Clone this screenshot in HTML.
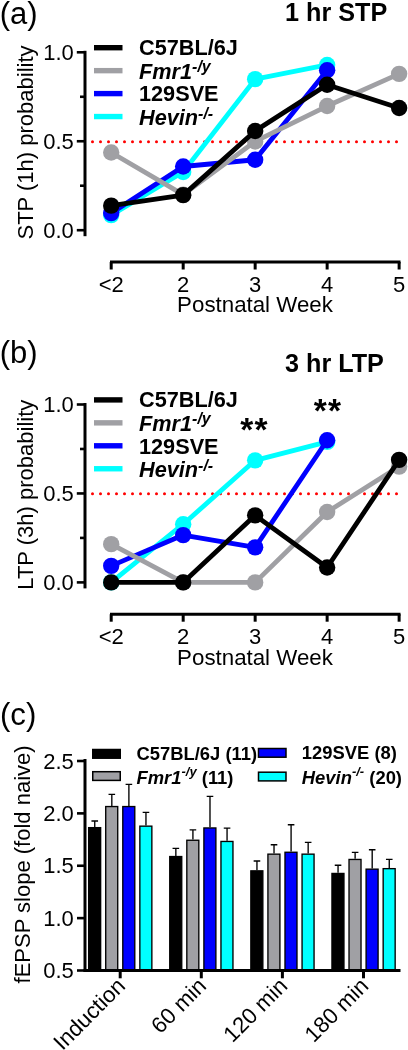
<!DOCTYPE html>
<html><head><meta charset="utf-8"><style>
html,body{margin:0;padding:0;background:#fff;width:408px;height:1050px;overflow:hidden}
svg{display:block;will-change:transform}
text{font-family:"Liberation Sans", sans-serif;fill:#000}
</style></head><body>
<svg width="408" height="1050" viewBox="0 0 408 1050">
<text x="-0.3" y="24.0" font-size="31" >(a)</text>
<text x="285" y="21.2" font-size="25.2" font-weight="bold">1 hr STP</text>
<line x1="92.5" y1="141.65" x2="398" y2="141.65" stroke="#ff0000" stroke-width="3" stroke-linecap="round" stroke-dasharray="0 8"/>
<path d="M85 50.80 V236.20" stroke="#000" stroke-width="3" fill="none"/>
<path d="M76.8 52.30 H85" stroke="#000" stroke-width="2.6"/>
<path d="M80 96.78 H85" stroke="#000" stroke-width="2.6"/>
<path d="M76.8 141.25 H85" stroke="#000" stroke-width="2.6"/>
<path d="M80 185.72 H85" stroke="#000" stroke-width="2.6"/>
<path d="M76.8 230.20 H85" stroke="#000" stroke-width="2.6"/>
<path d="M110 262 H400.5" stroke="#000" stroke-width="3" fill="none"/>
<path d="M111.20 262 V269.5" stroke="#000" stroke-width="3"/>
<path d="M183.18 262 V269.5" stroke="#000" stroke-width="3"/>
<path d="M255.16 262 V269.5" stroke="#000" stroke-width="3"/>
<path d="M327.14 262 V269.5" stroke="#000" stroke-width="3"/>
<path d="M399.12 262 V269.5" stroke="#000" stroke-width="3"/>
<text x="111.20" y="291.8" font-size="22" text-anchor="middle">&lt;2</text>
<text x="183.18" y="291.8" font-size="22" text-anchor="middle">2</text>
<text x="255.16" y="291.8" font-size="22" text-anchor="middle">3</text>
<text x="327.14" y="291.8" font-size="22" text-anchor="middle">4</text>
<text x="399.12" y="291.8" font-size="22" text-anchor="middle">5</text>
<text x="255" y="312.3" font-size="22.3" text-anchor="middle">Postnatal Week</text>
<text x="73.8" y="59.90" font-size="22" text-anchor="end">1.0</text>
<text x="73.8" y="148.85" font-size="22" text-anchor="end">0.5</text>
<text x="73.8" y="237.80" font-size="22" text-anchor="end">0.0</text>
<text transform="translate(33.1 142.5) rotate(-90)" font-size="22" text-anchor="middle">STP (1h) probability</text>
<path d="M111.20 215.08 L183.18 172.03 L255.16 79.16 L327.14 64.93" stroke="#00ffff" stroke-width="4.8" fill="none" stroke-linejoin="round"/>
<circle cx="111.20" cy="215.08" r="8.2" fill="#00ffff"/>
<circle cx="183.18" cy="172.03" r="8.2" fill="#00ffff"/>
<circle cx="255.16" cy="79.16" r="8.2" fill="#00ffff"/>
<circle cx="327.14" cy="64.93" r="8.2" fill="#00ffff"/>
<path d="M111.20 213.12 L183.18 166.51 L255.16 159.75 L327.14 70.27" stroke="#0000ff" stroke-width="4.8" fill="none" stroke-linejoin="round"/>
<circle cx="111.20" cy="213.12" r="8.2" fill="#0000ff"/>
<circle cx="183.18" cy="166.51" r="8.2" fill="#0000ff"/>
<circle cx="255.16" cy="159.75" r="8.2" fill="#0000ff"/>
<circle cx="327.14" cy="70.27" r="8.2" fill="#0000ff"/>
<path d="M111.20 152.46 L183.18 194.62 L255.16 141.43 L327.14 106.03 L399.12 73.83" stroke="#a0a0a4" stroke-width="4.8" fill="none" stroke-linejoin="round"/>
<circle cx="111.20" cy="152.46" r="8.2" fill="#a0a0a4"/>
<circle cx="183.18" cy="194.62" r="8.2" fill="#a0a0a4"/>
<circle cx="255.16" cy="141.43" r="8.2" fill="#a0a0a4"/>
<circle cx="327.14" cy="106.03" r="8.2" fill="#a0a0a4"/>
<circle cx="399.12" cy="73.83" r="8.2" fill="#a0a0a4"/>
<path d="M111.20 205.65 L183.18 195.15 L255.16 130.93 L327.14 84.68 L399.12 107.98" stroke="#000000" stroke-width="4.8" fill="none" stroke-linejoin="round"/>
<circle cx="111.20" cy="205.65" r="8.2" fill="#000000"/>
<circle cx="183.18" cy="195.15" r="8.2" fill="#000000"/>
<circle cx="255.16" cy="130.93" r="8.2" fill="#000000"/>
<circle cx="327.14" cy="84.68" r="8.2" fill="#000000"/>
<circle cx="399.12" cy="107.98" r="8.2" fill="#000000"/>
<rect x="94" y="45.00" width="28.5" height="5.4" fill="#000000"/>
<text x="139" y="54.70" font-size="21.7" font-weight="bold">C57BL/6J</text>
<rect x="94" y="67.95" width="28.5" height="5.4" fill="#a0a0a4"/>
<text x="139" y="78.50" font-size="21.7" font-weight="bold"><tspan font-style="italic">Fmr1</tspan><tspan font-style="italic" font-size="16" dy="-7">-/y</tspan></text>
<rect x="94" y="90.90" width="28.5" height="5.4" fill="#0000ff"/>
<text x="139" y="101.30" font-size="21.7" font-weight="bold">129SVE</text>
<rect x="94" y="113.85" width="28.5" height="5.4" fill="#00ffff"/>
<text x="139" y="124.90" font-size="21.7" font-weight="bold"><tspan font-style="italic">Hevin</tspan><tspan font-style="italic" font-size="16" dy="-6.2">-/-</tspan></text>
<text x="-0.3" y="363.0" font-size="31" >(b)</text>
<text x="285" y="371.6" font-size="25.2" font-weight="bold">3 hr LTP</text>
<line x1="92.5" y1="493.85" x2="398" y2="493.85" stroke="#ff0000" stroke-width="3" stroke-linecap="round" stroke-dasharray="0 8"/>
<path d="M85 403.00 V588.40" stroke="#000" stroke-width="3" fill="none"/>
<path d="M76.8 404.50 H85" stroke="#000" stroke-width="2.6"/>
<path d="M80 448.98 H85" stroke="#000" stroke-width="2.6"/>
<path d="M76.8 493.45 H85" stroke="#000" stroke-width="2.6"/>
<path d="M80 537.92 H85" stroke="#000" stroke-width="2.6"/>
<path d="M76.8 582.40 H85" stroke="#000" stroke-width="2.6"/>
<path d="M110 614.2 H400.5" stroke="#000" stroke-width="3" fill="none"/>
<path d="M111.20 614.2 V621.7" stroke="#000" stroke-width="3"/>
<path d="M183.18 614.2 V621.7" stroke="#000" stroke-width="3"/>
<path d="M255.16 614.2 V621.7" stroke="#000" stroke-width="3"/>
<path d="M327.14 614.2 V621.7" stroke="#000" stroke-width="3"/>
<path d="M399.12 614.2 V621.7" stroke="#000" stroke-width="3"/>
<text x="111.20" y="644.0" font-size="22" text-anchor="middle">&lt;2</text>
<text x="183.18" y="644.0" font-size="22" text-anchor="middle">2</text>
<text x="255.16" y="644.0" font-size="22" text-anchor="middle">3</text>
<text x="327.14" y="644.0" font-size="22" text-anchor="middle">4</text>
<text x="399.12" y="644.0" font-size="22" text-anchor="middle">5</text>
<text x="255" y="664.5" font-size="22.3" text-anchor="middle">Postnatal Week</text>
<text x="73.8" y="412.10" font-size="22" text-anchor="end">1.0</text>
<text x="73.8" y="501.05" font-size="22" text-anchor="end">0.5</text>
<text x="73.8" y="590.00" font-size="22" text-anchor="end">0.0</text>
<text transform="translate(33.1 494.7) rotate(-90)" font-size="22" text-anchor="middle">LTP (3h) probability</text>
<path d="M111.20 582.40 L183.18 524.23 L255.16 460.36 L327.14 441.86" stroke="#00ffff" stroke-width="4.8" fill="none" stroke-linejoin="round"/>
<circle cx="111.20" cy="582.40" r="8.2" fill="#00ffff"/>
<circle cx="183.18" cy="524.23" r="8.2" fill="#00ffff"/>
<circle cx="255.16" cy="460.36" r="8.2" fill="#00ffff"/>
<circle cx="327.14" cy="441.86" r="8.2" fill="#00ffff"/>
<path d="M111.20 565.86 L183.18 535.08 L255.16 547.35 L327.14 440.26" stroke="#0000ff" stroke-width="4.8" fill="none" stroke-linejoin="round"/>
<circle cx="111.20" cy="565.86" r="8.2" fill="#0000ff"/>
<circle cx="183.18" cy="535.08" r="8.2" fill="#0000ff"/>
<circle cx="255.16" cy="547.35" r="8.2" fill="#0000ff"/>
<circle cx="327.14" cy="440.26" r="8.2" fill="#0000ff"/>
<path d="M111.20 544.15 L183.18 582.40 L255.16 582.40 L327.14 511.95 L399.12 466.59" stroke="#a0a0a4" stroke-width="4.8" fill="none" stroke-linejoin="round"/>
<circle cx="111.20" cy="544.15" r="8.2" fill="#a0a0a4"/>
<circle cx="183.18" cy="582.40" r="8.2" fill="#a0a0a4"/>
<circle cx="255.16" cy="582.40" r="8.2" fill="#a0a0a4"/>
<circle cx="327.14" cy="511.95" r="8.2" fill="#a0a0a4"/>
<circle cx="399.12" cy="466.59" r="8.2" fill="#a0a0a4"/>
<path d="M111.20 582.40 L183.18 582.40 L255.16 515.33 L327.14 567.46 L399.12 459.83" stroke="#000000" stroke-width="4.8" fill="none" stroke-linejoin="round"/>
<circle cx="111.20" cy="582.40" r="8.2" fill="#000000"/>
<circle cx="183.18" cy="582.40" r="8.2" fill="#000000"/>
<circle cx="255.16" cy="515.33" r="8.2" fill="#000000"/>
<circle cx="327.14" cy="567.46" r="8.2" fill="#000000"/>
<circle cx="399.12" cy="459.83" r="8.2" fill="#000000"/>
<rect x="94" y="397.20" width="28.5" height="5.4" fill="#000000"/>
<text x="139" y="406.90" font-size="21.7" font-weight="bold">C57BL/6J</text>
<rect x="94" y="420.15" width="28.5" height="5.4" fill="#a0a0a4"/>
<text x="139" y="430.70" font-size="21.7" font-weight="bold"><tspan font-style="italic">Fmr1</tspan><tspan font-style="italic" font-size="16" dy="-7">-/y</tspan></text>
<rect x="94" y="443.10" width="28.5" height="5.4" fill="#0000ff"/>
<text x="139" y="453.50" font-size="21.7" font-weight="bold">129SVE</text>
<rect x="94" y="466.05" width="28.5" height="5.4" fill="#00ffff"/>
<text x="139" y="477.10" font-size="21.7" font-weight="bold"><tspan font-style="italic">Hevin</tspan><tspan font-style="italic" font-size="16" dy="-6.2">-/-</tspan></text>
<text x="254.5" y="441" font-size="33.5" font-weight="bold" text-anchor="middle" letter-spacing="1.2">**</text>
<text x="328" y="421.5" font-size="33.5" font-weight="bold" text-anchor="middle" letter-spacing="1.2">**</text>
<text x="-0.1" y="724.6" font-size="31.2">(c)</text>
<path d="M94.75 827.00 V821.00 M91.45 821.00 H98.05" stroke="#000" stroke-width="1.35" fill="none"/>
<rect x="88.65" y="827.65" width="12" height="143.50" fill="#000000" stroke="#000" stroke-width="1.35"/>
<path d="M111.82 805.90 V794.30 M108.52 794.30 H115.12" stroke="#000" stroke-width="1.35" fill="none"/>
<rect x="105.72" y="806.55" width="12" height="164.60" fill="#a0a0a4" stroke="#000" stroke-width="1.35"/>
<path d="M128.89 805.90 V784.30 M125.59 784.30 H132.19" stroke="#000" stroke-width="1.35" fill="none"/>
<rect x="122.79" y="806.55" width="12" height="164.60" fill="#0000ff" stroke="#000" stroke-width="1.35"/>
<path d="M145.96 825.50 V812.40 M142.66 812.40 H149.26" stroke="#000" stroke-width="1.35" fill="none"/>
<rect x="139.86" y="826.15" width="12" height="145.00" fill="#00ffff" stroke="#000" stroke-width="1.35"/>
<path d="M175.85 855.90 V848.40 M172.55 848.40 H179.15" stroke="#000" stroke-width="1.35" fill="none"/>
<rect x="169.75" y="856.55" width="12" height="114.60" fill="#000000" stroke="#000" stroke-width="1.35"/>
<path d="M192.92 839.60 V829.80 M189.62 829.80 H196.22" stroke="#000" stroke-width="1.35" fill="none"/>
<rect x="186.82" y="840.25" width="12" height="130.90" fill="#a0a0a4" stroke="#000" stroke-width="1.35"/>
<path d="M209.99 827.30 V796.30 M206.69 796.30 H213.29" stroke="#000" stroke-width="1.35" fill="none"/>
<rect x="203.89" y="827.95" width="12" height="143.20" fill="#0000ff" stroke="#000" stroke-width="1.35"/>
<path d="M227.06 840.80 V828.10 M223.76 828.10 H230.36" stroke="#000" stroke-width="1.35" fill="none"/>
<rect x="220.96" y="841.45" width="12" height="129.70" fill="#00ffff" stroke="#000" stroke-width="1.35"/>
<path d="M256.95 870.20 V861.00 M253.65 861.00 H260.25" stroke="#000" stroke-width="1.35" fill="none"/>
<rect x="250.85" y="870.85" width="12" height="100.30" fill="#000000" stroke="#000" stroke-width="1.35"/>
<path d="M274.02 853.50 V844.70 M270.72 844.70 H277.32" stroke="#000" stroke-width="1.35" fill="none"/>
<rect x="267.92" y="854.15" width="12" height="117.00" fill="#a0a0a4" stroke="#000" stroke-width="1.35"/>
<path d="M291.09 851.60 V824.70 M287.79 824.70 H294.39" stroke="#000" stroke-width="1.35" fill="none"/>
<rect x="284.99" y="852.25" width="12" height="118.90" fill="#0000ff" stroke="#000" stroke-width="1.35"/>
<path d="M308.16 853.50 V842.40 M304.86 842.40 H311.46" stroke="#000" stroke-width="1.35" fill="none"/>
<rect x="302.06" y="854.15" width="12" height="117.00" fill="#00ffff" stroke="#000" stroke-width="1.35"/>
<path d="M338.05 872.80 V865.20 M334.75 865.20 H341.35" stroke="#000" stroke-width="1.35" fill="none"/>
<rect x="331.95" y="873.45" width="12" height="97.70" fill="#000000" stroke="#000" stroke-width="1.35"/>
<path d="M355.12 858.80 V852.30 M351.82 852.30 H358.42" stroke="#000" stroke-width="1.35" fill="none"/>
<rect x="349.02" y="859.45" width="12" height="111.70" fill="#a0a0a4" stroke="#000" stroke-width="1.35"/>
<path d="M372.19 868.50 V849.70 M368.89 849.70 H375.49" stroke="#000" stroke-width="1.35" fill="none"/>
<rect x="366.09" y="869.15" width="12" height="102.00" fill="#0000ff" stroke="#000" stroke-width="1.35"/>
<path d="M389.26 868.00 V859.40 M385.96 859.40 H392.56" stroke="#000" stroke-width="1.35" fill="none"/>
<rect x="383.16" y="868.65" width="12" height="102.50" fill="#00ffff" stroke="#000" stroke-width="1.35"/>
<path d="M85 759 V971.8" stroke="#000" stroke-width="3" fill="none"/>
<path d="M77 761.00 H85" stroke="#000" stroke-width="2.6"/>
<text x="73.8" y="768.60" font-size="22" text-anchor="end">2.5</text>
<path d="M77 813.38 H85" stroke="#000" stroke-width="2.6"/>
<text x="73.8" y="820.98" font-size="22" text-anchor="end">2.0</text>
<path d="M77 865.75 H85" stroke="#000" stroke-width="2.6"/>
<text x="73.8" y="873.35" font-size="22" text-anchor="end">1.5</text>
<path d="M77 918.12 H85" stroke="#000" stroke-width="2.6"/>
<text x="73.8" y="925.73" font-size="22" text-anchor="end">1.0</text>
<path d="M77 970.50 H85" stroke="#000" stroke-width="2.6"/>
<text x="73.8" y="978.10" font-size="22" text-anchor="end">0.5</text>
<path d="M83.5 970.5 H400.5" stroke="#000" stroke-width="3" fill="none"/>
<path d="M120.2 970.5 V978.3" stroke="#000" stroke-width="3"/>
<text transform="translate(126.50 987.30) rotate(-45)" font-size="22.3" text-anchor="end">Induction</text>
<path d="M201.3 970.5 V978.3" stroke="#000" stroke-width="3"/>
<text transform="translate(207.60 987.30) rotate(-45)" font-size="22.3" text-anchor="end">60 min</text>
<path d="M282.4 970.5 V978.3" stroke="#000" stroke-width="3"/>
<text transform="translate(288.70 987.30) rotate(-45)" font-size="22.3" text-anchor="end">120 min</text>
<path d="M363.5 970.5 V978.3" stroke="#000" stroke-width="3"/>
<text transform="translate(369.80 987.30) rotate(-45)" font-size="22.3" text-anchor="end">180 min</text>
<text transform="translate(29.9 864.4) rotate(-90)" font-size="22" text-anchor="middle">fEPSP slope (fold naive)</text>
<rect x="92.75" y="749.5" width="27.5" height="8.7" fill="#000000" stroke="#000" stroke-width="1.5"/>
<rect x="92.75" y="771.7" width="27.5" height="8.7" fill="#a0a0a4" stroke="#000" stroke-width="1.5"/>
<rect x="258.5" y="748.5" width="27.5" height="8.7" fill="#0000ff" stroke="#000" stroke-width="1.5"/>
<rect x="258.5" y="772.2" width="27.5" height="8.7" fill="#00ffff" stroke="#000" stroke-width="1.5"/>
<text x="136.5" y="759.5" font-size="18.4" font-weight="bold">C57BL/6J (11)</text>
<text x="136.5" y="784" font-size="18.4" font-weight="bold"><tspan font-style="italic">Fmr1</tspan><tspan font-style="italic" font-size="13" dy="-8">-/y</tspan><tspan dy="8"> (11)</tspan></text>
<text x="301.8" y="758.8" font-size="18.4" font-weight="bold">129SVE (8)</text>
<text x="301.8" y="783.5" font-size="18.4" font-weight="bold"><tspan font-style="italic">Hevin</tspan><tspan font-style="italic" font-size="13" dy="-8">-/-</tspan><tspan dy="8"> (20)</tspan></text>
</svg>
</body></html>
